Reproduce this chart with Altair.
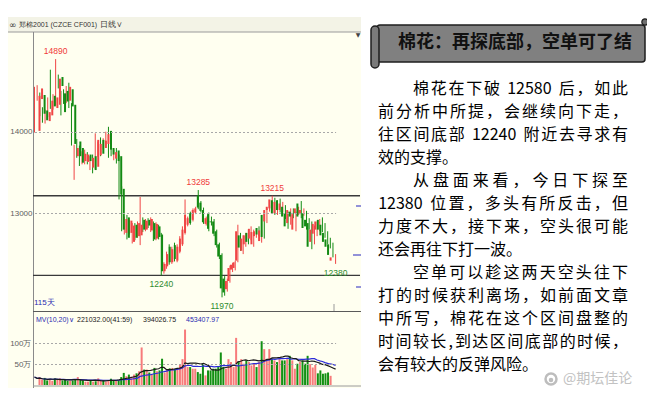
import altair as alt
import pandas as pd

# ---------------- data ----------------
OPEN = [14010, 14400, 14450, 14260, 14130, 14200, 14440, 14290, 14330, 14670,
        14470, 14500, 14380, 14520, 14330, 13700, 13880, 13800, 13640, 13630,
        13720, 13560, 13700, 13570, 13710, 13900, 13800, 13850, 14010, 13800,
        13670, 13770, 13700, 13300, 12760, 12950, 12760, 12650, 12860, 12720,
        12730, 12920, 12800, 12920, 12790, 12880, 12690, 12840, 12740, 12290,
        12350, 12590, 12400, 12610, 12420, 12530, 12620, 12760, 12860, 13000,
        12920, 13010, 13220, 13130, 13040, 12870, 12990, 12900, 12900, 12780,
        12620, 12490, 12200, 12070, 12170, 12310, 12330, 12420, 12730, 12540,
        12620, 12760, 12690, 12620, 12720, 12820, 12660, 12980, 12900, 13040,
        13060, 13160, 13000, 13160, 13040, 13080, 13000, 12880, 13020, 12800,
        13000, 13120, 12990, 13000, 12920, 12880, 12650, 12750, 12800, 12920,
        12860, 12760, 12680, 12620, 12420]
HIGH = [14550, 14570, 14480, 14300, 14270, 14420, 14760, 14460, 14890, 14700,
        14500, 14520, 14560, 14600, 14350, 13840, 13910, 13830, 13760, 13780,
        13750, 13700, 13720, 13980, 13880, 13930, 13920, 14000, 14060, 13830,
        13780, 13800, 13720, 13330, 12960, 12980, 12920, 12880, 12880, 12900,
        13200, 12950, 12930, 12940, 12950, 12900, 12890, 12860, 12760, 12400,
        12530, 12620, 12590, 12640, 12620, 12720, 12840, 13170, 12960, 13020,
        13060, 13080, 13285, 13150, 13070, 12960, 13010, 12960, 12930, 12800,
        12640, 12510, 12230, 12200, 12360, 12390, 12420, 12860, 12760, 12730,
        12760, 12800, 12840, 12800, 12800, 12840, 12800, 13000, 13060, 13100,
        13215, 13190, 13160, 13180, 13140, 13100, 13020, 13060, 13060, 13020,
        13080, 13150, 13060, 13030, 12940, 12900, 12850, 12900, 12930, 12950,
        12880, 12780, 12700, 12640, 12500]
LOW = [13990, 14380, 14190, 14110, 14100, 14180, 14280, 14270, 14320, 14530,
       14200, 14340, 14350, 14290, 13830, 13410, 13680, 13580, 13600, 13600,
       13600, 13530, 13490, 13540, 13690, 13700, 13780, 13830, 13680, 13700,
       13650, 13610, 13170, 12780, 12740, 12680, 12740, 12630, 12670, 12700,
       12610, 12770, 12780, 12820, 12770, 12660, 12670, 12680, 12240, 12260,
       12320, 12370, 12380, 12410, 12400, 12510, 12600, 12740, 12840, 12860,
       12900, 12990, 13050, 13010, 12870, 12850, 12780, 12850, 12720, 12580,
       12440, 11970, 11990, 12040, 12150, 12280, 12300, 12400, 12540, 12500,
       12590, 12620, 12670, 12590, 12700, 12720, 12640, 12690, 12880, 13020,
       13040, 12980, 12980, 13010, 13010, 12930, 12810, 12860, 12940, 12780,
       12980, 12940, 12970, 12800, 12800, 12560, 12620, 12720, 12780, 12770,
       12700, 12620, 12570, 12460, 12380]
CLOSE = [14440, 14530, 14220, 14140, 14240, 14380, 14310, 14420, 14650, 14560,
         14240, 14370, 14550, 14310, 13850, 13800, 13700, 13620, 13730, 13720,
         13640, 13680, 13530, 13900, 13850, 13730, 13890, 13970, 13780, 13720,
         13750, 13640, 13230, 12800, 12930, 12700, 12910, 12850, 12700, 12880,
         12860, 12800, 12910, 12850, 12930, 12680, 12870, 12710, 12290, 12380,
         12500, 12400, 12560, 12440, 12590, 12690, 12800, 12980, 12940, 12880,
         13040, 13060, 13070, 13030, 12890, 12940, 12810, 12890, 12750, 12610,
         12470, 12080, 12030, 12170, 12330, 12370, 12400, 12780, 12580, 12690,
         12730, 12650, 12810, 12770, 12780, 12740, 12790, 12710, 13040, 13080,
         13170, 13000, 13140, 13040, 13120, 12960, 12840, 13040, 12960, 12990,
         13060, 12960, 13040, 12820, 12840, 12590, 12800, 12870, 12900, 12800,
         12730, 12650, 12590, 12490, 12460]
# volume in 万
VOLUME = [19, 13, 17, 11, 12, 10, 16, 12, 16, 11,
          13, 10, 10, 11, 13, 19, 13, 11, 8, 8,
          10, 8, 9, 16, 10, 12, 8, 12, 15, 11,
          10, 11, 19, 29, 21, 25, 20, 25, 28, 33,
          90, 37, 37, 30, 25, 41, 33, 35, 63, 30,
          37, 40, 41, 39, 38, 48, 62, 133, 43, 43,
          39, 39, 31, 27, 51, 23, 35, 35, 39, 39,
          43, 78, 43, 39, 62, 55, 43, 113, 55, 62,
          51, 59, 55, 47, 51, 43, 55, 105, 86, 62,
          86, 62, 59, 55, 62, 59, 59, 62, 70, 59,
          39, 51, 55, 59, 51, 70, 50, 42, 48, 28,
          35, 27, 28, 30, 22]

HIGH_MARK_IDX = [8, 62, 90]
HIGH_MARK_VAL = [14890, 13285, 13215]
LOW_MARK_IDX = [48, 71, 114]
LOW_MARK_VAL = [12240, 11970, 12380]
LEVELS = [13215, 12240]
PRICE_TICKS = [13000, 14000]
VOL_TICKS = [50, 100]

HEADER_ICON = "∞"
HEADER_NAME = "郑棉2001 (CZCE CF001)"
HEADER_PERIOD = "日线∨"
DAYS_LABEL = "115天"
VOL_NAME = "MV(10,20)∨"
VOL_VALUES = ["221032.00(41:59)", "394026.75", "453407.97"]

TITLE = "棉花：再探底部，空单可了结"
BODY_LINES = [
    "棉花在下破 12580 后，如此",
    "前分析中所提，会继续向下走，",
    "往区间底部 12240 附近去寻求有",
    "效的支撑。",
    "从盘面来看，今日下探至",
    "12380 位置，多头有所反击，但",
    "力度不大，接下来，空头很可能",
    "还会再往下打一波。",
    "空单可以趁这两天空头往下",
    "打的时候获利离场，如前面文章",
    "中所写，棉花在这个区间盘整的",
    "时间较长,到达区间底部的时候，",
    "会有较大的反弹风险。",
]
INDENTED = [0, 4, 8]
UNJUSTIFIED = [3, 7, 12]
WATERMARK = "@期坛佳论"

# ---------------- layout ----------------
OX, OY = 33, 33          # page position of plot origin
W, H = 327, 352


def px(x):
    return x - OX


def py(y):
    return y - OY


SMALL = "Liberation Sans, Arial, sans-serif"
CJK = "Noto Sans CJK SC"
RED = "#F04545"
GREEN = "#138A13"
VRED = "#F77B7B"
VGREEN = "#139013"
PANEL = "#FFFFF0"
HEADER_BG = "#F3F3E6"

df = pd.DataFrame({"i": list(range(len(OPEN))), "o": OPEN, "h": HIGH,
                   "l": LOW, "c": CLOSE, "v": VOLUME})

xs = alt.Scale(domain=[0, 114], range=[px(34.5), px(335.6)], nice=False, zero=False)
ps = alt.Scale(domain=[12000, 15000], range=[py(294.9), py(50.1)], nice=False, zero=False)
vs = alt.Scale(domain=[0, 100], range=[py(385), py(343.3)], nice=False, zero=False)

one = alt.Data(values=[{"a": 1}])
layers = []


def rect(x1, y1, x2, y2, fill, stroke=None, sw=1, cr=0):
    kw = dict(fill=fill, cornerRadius=cr)
    if stroke:
        kw.update(stroke=stroke, strokeWidth=sw)
    return alt.Chart(one).mark_rect(**kw).encode(
        x=alt.value(px(x1)), x2=alt.value(px(x2)),
        y=alt.value(py(y1)), y2=alt.value(py(y2)))


def rule(x1, y1, x2, y2, color, sw=1):
    return alt.Chart(one).mark_rule(color=color, strokeWidth=sw).encode(
        x=alt.value(px(x1)), x2=alt.value(px(x2)),
        y=alt.value(py(y1)), y2=alt.value(py(y2)))


def label(x, y, s, color="#222", size=7, font=SMALL, align="left", weight="normal"):
    return alt.Chart(one).mark_text(
        align=align, baseline="middle", color=color, fontSize=size,
        font=font, fontWeight=weight).encode(
        x=alt.value(px(x)), y=alt.value(py(y)), text=alt.value(s))


# backgrounds of the left panel
layers.append(rect(7, 17, 361, 389, PANEL))
layers.append(rect(7, 17, 361, 32, HEADER_BG))
layers.append(rule(7, 32, 361, 32, "#9A9A9A"))

# ---------------- right panel ----------------
layers.append(rect(377, 25, 645, 62, "#808080", "#1E1E1E", 1.5, 3))
layers.append(rect(371, 26, 379, 68, "#7A7A7A", "#1E1E1E", 1.5, 4))
layers.append(alt.Chart(one).mark_point(filled=True, fill="#6E6E6E", stroke="#1E1E1E",
                                        strokeWidth=1.2, size=40, opacity=1).encode(
    x=alt.value(px(645)), y=alt.value(py(22))))
layers.append(label(515, 43, TITLE, "#111111", 18, CJK, "center", "bold"))

FS = 16
LEFT, RIGHT, INDENT_X = 378, 628, 413
LINE_Y0, LINE_STEP = 89, 23


def tokens(line):
    out = []
    k = 0
    while k < len(line):
        ch = line[k]
        if ch == " ":
            out.append((None, 0.33 * FS))
            k += 1
        elif ord(ch) < 128:
            j = k
            while j < len(line) and ord(line[j]) < 128 and line[j] != " ":
                j += 1
            s = line[k:j]
            out.append((s, (0.56 if s.isdigit() else 0.35) * FS * len(s)))
            k = j
        else:
            out.append((ch, FS))
            k += 1
    return out


rows = []
for n, line in enumerate(BODY_LINES):
    toks = tokens(line)
    x0 = INDENT_X if n in INDENTED else LEFT
    real = [t for t in toks if t[0] is not None]
    natural = sum(w for _, w in toks)
    gap = 0 if n in UNJUSTIFIED else (RIGHT - x0 - natural) / max(len(real) - 1, 1)
    cur = x0
    for t, w in toks:
        if t is None:
            cur += w
            continue
        rows.append({"t": t, "x": px(cur + w / 2), "y": py(LINE_Y0 + n * LINE_STEP)})
        cur += w + gap
body = pd.DataFrame(rows)
layers.append(alt.Chart(body).mark_text(align="center", baseline="middle", fontSize=FS,
                                        font=CJK, color="#000000").encode(
    x=alt.X("x:Q", scale=None, axis=None), y=alt.Y("y:Q", scale=None, axis=None), text="t:N"))

# watermark (logo + handle)
layers.append(alt.Chart(one).mark_point(size=120, color="#BDBDBD", strokeWidth=2.5,
                                        opacity=1).encode(
    x=alt.value(px(551)), y=alt.value(py(379))))
layers.append(alt.Chart(one).mark_circle(size=20, color="#BDBDBD", opacity=1).encode(
    x=alt.value(px(551)), y=alt.value(py(380))))
layers.append(label(563, 379, WATERMARK, "#C2C2C2", 14, CJK, "left"))

# ---------------- chart frame ----------------
layers.append(rule(33.5, 32, 33.5, 389, "#8A8A8A"))
layers.append(rule(33, 311.5, 361, 311.5, "#5A5A5A"))
layers.append(rule(33, 386, 361, 386, "#9A9A9A"))
layers.append(rule(334, 304, 334, 311, "#9A9A9A"))
layers.append(rule(356, 206, 361, 206, "#4A4AC8", 1.2))
layers.append(rule(353, 255, 361, 255, "#4A4AC8", 1.2))
layers.append(rule(356, 287, 361, 287, "#4A4AC8", 1.2))
layers.append(label(358, 35, "▼", "#444", 6, "DejaVu Sans", "center"))

# support / resistance levels
lev = pd.DataFrame({"p": LEVELS})
layers.append(alt.Chart(lev).mark_rule(color="#3A3A3A", strokeWidth=1.3).encode(
    y=alt.Y("p:Q", scale=ps, axis=None), x=alt.value(0), x2=alt.value(W)))

up = "datum.c >= datum.o"
X = alt.X("i:Q", scale=xs, axis=None)

# volume
vol_axis = alt.Axis(values=VOL_TICKS, orient="left", labelExpr="datum.value + '万'",
                    grid=True, gridDash=[2, 2], gridColor="#A8A8A8", domain=False,
                    ticks=False, labelFont=SMALL, labelFontSize=8, labelColor="#606060",
                    labelPadding=2, title=None, zindex=1)
layers.append(alt.Chart(df).mark_bar(size=2).encode(
    x=X, y=alt.Y("v:Q", scale=vs, axis=vol_axis),
    color=alt.condition(up, alt.value(VRED), alt.value(VGREEN))))
for name, n, col in [("ma20", 20, "#2B2BD8"), ("ma10", 10, "#1A1A1A")]:
    layers.append(alt.Chart(df).transform_window(
        **{name: "mean(v)"}, frame=[-(n - 1), 0], sort=[alt.SortField("i")]
    ).mark_line(color=col, strokeWidth=1.2).encode(
        x=X, y=alt.Y(f"{name}:Q", scale=vs, axis=None)))

# candles
price_axis = alt.Axis(values=PRICE_TICKS, orient="left", format="d", grid=True,
                      gridDash=[2, 2], gridColor="#A8A8A8", domain=False, ticks=False,
                      labelFont=SMALL, labelFontSize=8, labelColor="#606060",
                      labelPadding=1, title=None, zindex=1)
layers.append(alt.Chart(df).mark_rule(strokeWidth=1).encode(
    x=X, y=alt.Y("l:Q", scale=ps, axis=price_axis), y2="h:Q",
    color=alt.condition(up, alt.value(RED), alt.value(GREEN))))
layers.append(alt.Chart(df).mark_bar(size=2).encode(
    x=X, y=alt.Y("o:Q", scale=ps, axis=None), y2="c:Q",
    color=alt.condition(up, alt.value(RED), alt.value(GREEN))))

# price annotations
hi = pd.DataFrame({"i": HIGH_MARK_IDX, "p": HIGH_MARK_VAL})
lo = pd.DataFrame({"i": LOW_MARK_IDX, "p": LOW_MARK_VAL})
layers.append(alt.Chart(hi).mark_text(dy=-8, color="#F03A3A", fontSize=8.5, font=SMALL).encode(
    x=X, y=alt.Y("p:Q", scale=ps, axis=None), text=alt.Text("p:Q", format="d")))
layers.append(alt.Chart(lo).mark_text(dy=9, color="#2E8B2E", fontSize=8.5, font=SMALL).encode(
    x=X, y=alt.Y("p:Q", scale=ps, axis=None), text=alt.Text("p:Q", format="d")))

# header and panel texts
layers.append(label(9, 24.5, HEADER_ICON, "#333", 9, "DejaVu Sans"))
layers.append(label(19, 24.5, HEADER_NAME, "#333", 7))
layers.append(label(100, 24.5, HEADER_PERIOD, "#333", 8))
layers.append(label(34, 303, DAYS_LABEL, "#2B2BB0", 8))
layers.append(label(36, 320, VOL_NAME, "#2B2BB0", 7))
layers.append(label(77, 320, VOL_VALUES[0], "#222", 7))
layers.append(label(143, 320, VOL_VALUES[1], "#222", 7))
layers.append(label(186, 320, VOL_VALUES[2], "#2B2BB0", 7))

chart = alt.layer(*layers).resolve_scale(x="independent", y="independent").properties(
    width=W, height=H,
    padding={"left": 25, "top": 25, "right": 287, "bottom": 3},
    autosize=alt.AutoSizeParams(type="none"),
    background="white",
).configure_view(stroke=None)

chart.save("out.html", embed_options={"renderer": "svg", "actions": False})
